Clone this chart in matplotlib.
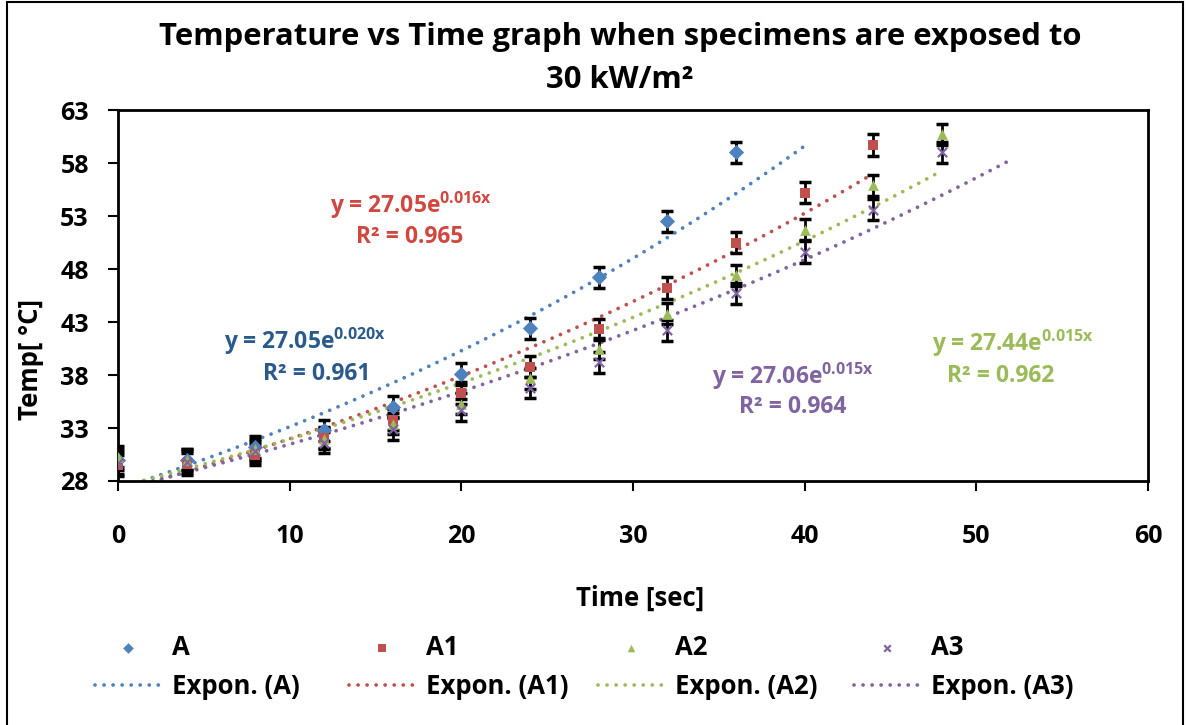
import matplotlib
matplotlib.use('Agg')
import matplotlib.pyplot as plt
import numpy as np
from matplotlib.patches import Rectangle

plt.rcParams['font.family'] = ['Open Sans', 'DejaVu Sans']
plt.rcParams['font.weight'] = 'bold'
plt.rcParams['mathtext.fontset'] = 'custom'
plt.rcParams['mathtext.rm'] = 'Open Sans:bold'
plt.rcParams['mathtext.bf'] = 'Open Sans:bold'

# data
time_A = [0, 4, 8, 12, 16, 20, 24, 28, 32, 36]
temp_A = [30.0, 30.0, 31.2, 32.8, 35.0, 38.1, 42.4, 47.2, 52.5, 59.0]
time_A1 = [0, 4, 8, 12, 16, 20, 24, 28, 32, 36, 40, 44]
temp_A1 = [29.5, 29.6, 30.5, 32.1, 33.8, 36.3, 38.8, 42.3, 46.2, 50.5, 55.2, 59.7]
time_A2 = [0, 4, 8, 12, 16, 20, 24, 28, 32, 36, 40, 44, 48]
temp_A2 = [30.3, 30.0, 31.0, 32.0, 33.4, 35.3, 37.7, 40.5, 43.8, 47.4, 51.7, 55.9, 60.7]
time_A3 = [0, 4, 8, 12, 16, 20, 24, 28, 32, 36, 40, 44, 48]
temp_A3 = [29.7, 29.8, 30.8, 31.6, 32.9, 34.7, 36.8, 39.2, 42.2, 45.7, 49.6, 53.6, 59.0]
err = 1.0

names = ['A', 'A1', 'A2', 'A3']
trend_end = [40, 44, 48, 52]
colors = ['#4F81BD', '#C0504D', '#9BBB59', '#8064A2']
markers = ['D', 's', '^', 'x']
eq_text = [r'y = 27.05e$^{\mathrm{0.020x}}$', r'y = 27.05e$^{\mathrm{0.016x}}$',
           r'y = 27.44e$^{\mathrm{0.015x}}$', r'y = 27.06e$^{\mathrm{0.015x}}$']
r2_text = ['R² = 0.961', 'R² = 0.965', 'R² = 0.962', 'R² = 0.964']
eq_colors = ['#2A5A8C', '#D0473F', '#9BBB59', '#8064A2']
# (x, y) of equation, (x, y) of R² label, in data units
eq_pos = [(10.9, 41.2, 11.6, 38.1), (17.1, 54.0, 17.0, 51.0),
          (52.1, 41.0, 51.4, 37.9), (39.3, 37.9, 39.3, 35.0)]

series = [(time_A, temp_A), (time_A1, temp_A1), (time_A2, temp_A2), (time_A3, temp_A3)]

W, H = 1186, 725
fig = plt.figure(figsize=(W / 100, H / 100), dpi=100)
ax = fig.add_axes([118 / W, 1 - 481 / H, (1148 - 118) / W, (481 - 110) / H])

legend_x = [95, 349, 598, 854]
for (x, y), name, c, m, xe, lx in zip(series, names, colors, markers, trend_end, legend_x):
    x = np.array(x)
    y = np.array(y)
    ax.errorbar(x, y, yerr=err, fmt='none', ecolor='black', elinewidth=2,
                capsize=4.5, capthick=2.5, zorder=2)
    pt = ax.scatter(x, y, marker=m, color=c, s=60 if m != 'x' else 45,
                    linewidths=1.6 if m == 'x' else 0, zorder=3, label=name)
    # exponential trendline, fitted like Excel (least squares on ln y)
    b, a = np.polyfit(x, np.log(y), 1)
    xt = np.linspace(0, xe, 100)
    ln, = ax.plot(xt, np.exp(a) * np.exp(b * xt), ls=(0, (0.01, 2.4)), color=c,
                  lw=2.7, dash_capstyle='round', zorder=1,
                  label='Expon. (' + name + ')')
    fig.legend(handles=[pt, ln], loc='center left',
               bbox_to_anchor=(lx / W, 1 - 667 / H), frameon=False, fontsize=18.5,
               handlelength=2.6, handletextpad=0.4, labelspacing=0.45,
               borderpad=0, borderaxespad=0, markerscale=0.7, scatterpoints=1)

for eq, r2, c, (xe_, ye_, xr, yr) in zip(eq_text, r2_text, eq_colors, eq_pos):
    ax.text(xe_, ye_, eq, color=c, fontsize=16.5, ha='center', va='center')
    ax.text(xr, yr, r2, color=c, fontsize=16.5, ha='center', va='center')

ax.set_xlim(0, 60)
ax.set_ylim(28, 63)
ax.set_xticks(range(0, 61, 10))
ax.set_yticks(range(28, 64, 5))
ax.tick_params(labelsize=18, width=1.5, length=7, direction='out')
ax.tick_params(axis='x', pad=24)
ax.tick_params(axis='y', pad=14)
for s in ax.spines.values():
    s.set_linewidth(2)

fig.text(640 / W, 1 - 598 / H, 'Time [sec]', fontsize=18.5, ha='center', va='center')
fig.text(31 / W, 1 - 360 / H, 'Temp[ °C]', fontsize=18.5, ha='center', va='center',
         rotation=90)

fig.text(620 / W, 1 - 37 / H, 'Temperature vs Time graph when specimens are exposed to',
         fontsize=22.3, ha='center', va='center')
fig.text(620 / W, 1 - 80 / H, '30 kW/m²', fontsize=22.3, ha='center', va='center')

fig.patches.append(Rectangle((6.5 / W, -0.05), (1183 - 6.5) / W, 1.05 - 2 / H,
                             transform=fig.transFigure, fill=False,
                             edgecolor='black', lw=1.5))

fig.savefig('out.png', dpi=100)
